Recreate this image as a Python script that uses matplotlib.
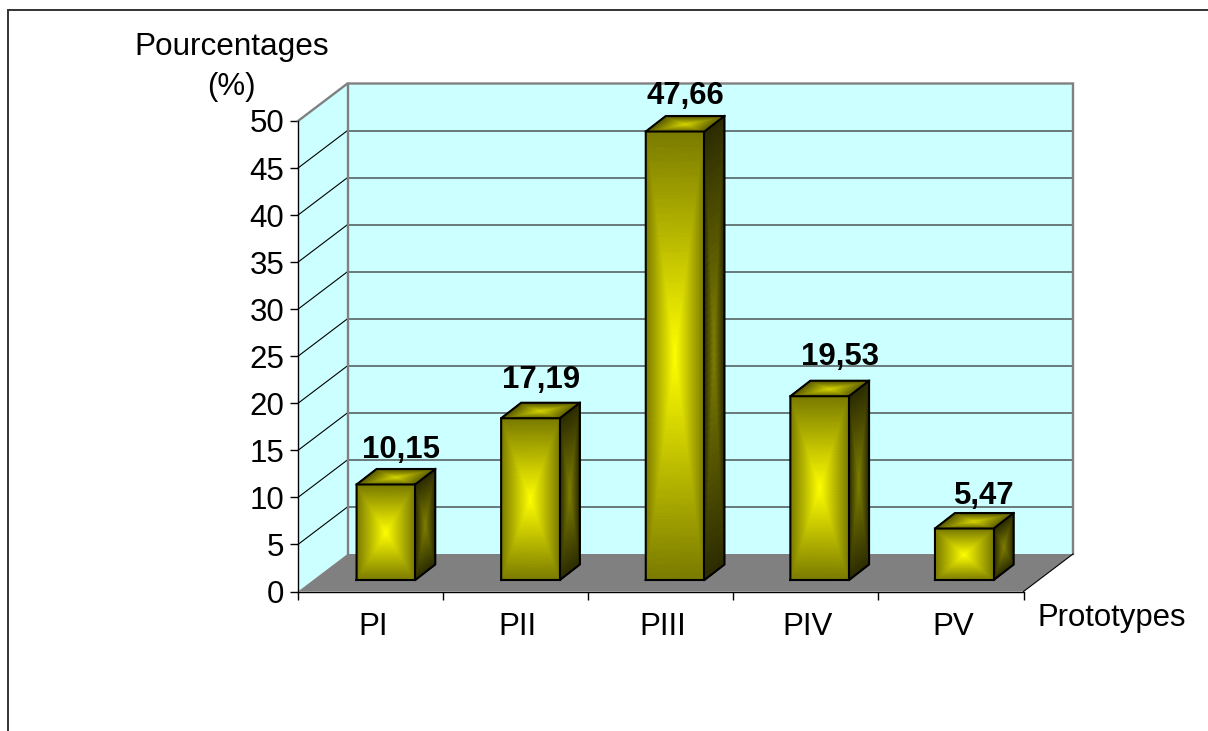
import numpy as np
import matplotlib
matplotlib.use("Agg")
import matplotlib.pyplot as plt
from matplotlib.colors import LinearSegmentedColormap
from matplotlib.lines import Line2D
from matplotlib.patches import Polygon

categories = ["PI", "PII", "PIII", "PIV", "PV"]
values = [10.15, 17.19, 47.66, 19.53, 5.47]
value_labels = ["10,15", "17,19", "47,66", "19,53", "5,47"]
y_ticks = [0, 5, 10, 15, 20, 25, 30, 35, 40, 45, 50]
label_dx = [15.3, 10.7, 10.4, 19.8, 20.2]
label_dy = [26.8, 30.5, 27.5, 31, 24.5]

W, H = 1208, 731
plt.rcParams["font.family"] = ["Liberation Sans", "DejaVu Sans"]
fig = plt.figure(figsize=(W / 100, H / 100), dpi=100)
L, R, T, B = 298.0, 1023.5, 121.0, 591.5
ax = fig.add_axes([L / W, 1 - B / H, (R - L) / W, (B - T) / H])
ax.set_xlim(0, 5)
ax.set_ylim(0, 50)
ax.patch.set_visible(False)
px = 5 / (R - L)
py = 50 / (B - T)

# depth of the 3D box
DX, DY = 49.5 * px, 37.5 * py
WALL = "#CCFFFF"
FRAME = "#808080"

ax.add_patch(Polygon([(0, 0), (DX, DY), (DX, 50 + DY), (0, 50)], fc=WALL, ec="none", zorder=1, clip_on=False))
ax.add_patch(Polygon([(DX, DY), (5 + DX, DY), (5 + DX, 50 + DY), (DX, 50 + DY)], fc=WALL, ec="none", zorder=1, clip_on=False))
ax.add_patch(Polygon([(0, 0), (5, 0), (5 + DX, DY), (DX, DY)], fc=FRAME, ec="none", zorder=2, clip_on=False))

for t in y_ticks[1:-1]:
    ax.plot([DX, 5 + DX], [t + DY, t + DY], color="#5F6F6F", lw=1.3, zorder=1.5, clip_on=False)
    ax.plot([0, DX], [t, t + DY], color="black", lw=0.8, zorder=1.5, clip_on=False)
ax.plot([0, DX, 5 + DX, 5 + DX], [50, 50 + DY, 50 + DY, DY], color=FRAME, lw=1.7, zorder=1.7, clip_on=False, solid_joinstyle="miter")
ax.plot([DX, DX], [DY, 50 + DY], color=FRAME, lw=1.7, zorder=1.7, clip_on=False)
ax.plot([5, 5 + DX], [0, DY], color="black", lw=0.8, zorder=2.5, clip_on=False)

front_cm = LinearSegmentedColormap.from_list("front", ["#FFFF00", "#7A7A00"])
top_cm = LinearSegmentedColormap.from_list("top", ["#D8D800", "#5E5E00"])
side_cm = LinearSegmentedColormap.from_list("side", ["#808000", "#2C2C00"])

n = 61
s = np.linspace(-1, 1, n)
U, V = np.meshgrid(s, s)
G = np.maximum(np.abs(U), np.abs(V))


def face(origin, e1, e2, cmap, z):
    a = (U + 1) / 2
    b = (V + 1) / 2
    X = origin[0] + a * e1[0] + b * e2[0]
    Y = origin[1] + a * e1[1] + b * e2[1]
    ax.pcolormesh(X, Y, G, cmap=cmap, vmin=0, vmax=1, shading="gouraud", zorder=z, clip_on=False)


bar_w = 58.7 * px
bar_x0 = 59 * px - 0.003
bar_step = 144.6 * px
bar_y0 = 11.5 * py
bx, by = 20 * px, 15.5 * py
EDGE = 1.5
for i, v in enumerate(values):
    x0 = i * bar_step + bar_x0
    y1 = bar_y0 + v
    face((x0, bar_y0), (bar_w, 0), (0, v), front_cm, 3)
    face((x0, y1), (bar_w, 0), (bx, by), top_cm, 3)
    face((x0 + bar_w, bar_y0), (bx, by), (0, v), side_cm, 3)
    outline = [(x0, bar_y0), (x0 + bar_w, bar_y0), (x0 + bar_w + bx, bar_y0 + by), (x0 + bar_w + bx, y1 + by),
               (x0 + bx, y1 + by), (x0, y1), (x0, bar_y0)]
    ax.plot(*zip(*outline), color="black", lw=EDGE, zorder=4, clip_on=False, solid_joinstyle="miter")
    ax.plot([x0, x0 + bar_w, x0 + bar_w + bx], [y1, y1, y1 + by], color="black", lw=EDGE, zorder=4, clip_on=False)
    ax.plot([x0 + bar_w, x0 + bar_w], [bar_y0, y1], color="black", lw=EDGE, zorder=4, clip_on=False)
    ax.annotate(value_labels[i], (x0 + bar_w / 2, y1), xytext=(label_dx[i], label_dy[i]), xycoords="data",
                textcoords="offset pixels", ha="center", va="baseline", fontsize=22.4,
                fontweight="bold", color="black", zorder=5, annotation_clip=False)

for side in ("top", "right"):
    ax.spines[side].set_visible(False)
for side in ("left", "bottom"):
    ax.spines[side].set_linewidth(1.0)
    ax.spines[side].set_zorder(2.6)
ax.set_yticks(y_ticks)
ax.set_yticklabels([str(t) for t in y_ticks])
ax.set_xticks(range(6))
ax.set_xticklabels([])
ax.set_xticks([i + 0.515 for i in range(5)], labels=categories, minor=True)
ax.tick_params(axis="y", length=6, width=1.0, labelsize=22.5, pad=4)
ax.tick_params(axis="x", which="major", length=6, width=1.0)
ax.tick_params(axis="x", which="minor", length=0, labelsize=22.5, pad=15)

fig.text(231.5 / W, 1 - 47 / H, "Pourcentages", ha="center", va="center", fontsize=22.7)
fig.text(231 / W, 1 - 87 / H, "(%)", ha="center", va="center", fontsize=22.5)
fig.text(1037 / W, 1 - 618 / H, "Prototypes", ha="left", va="center", fontsize=22.4)

fig.add_artist(Line2D([8 / W, 8 / W, 1], [0, 1 - 10 / H, 1 - 10 / H], color="#333333", lw=1.4,
                      transform=fig.transFigure, solid_joinstyle="miter"))

fig.savefig("out.png", dpi=100)
